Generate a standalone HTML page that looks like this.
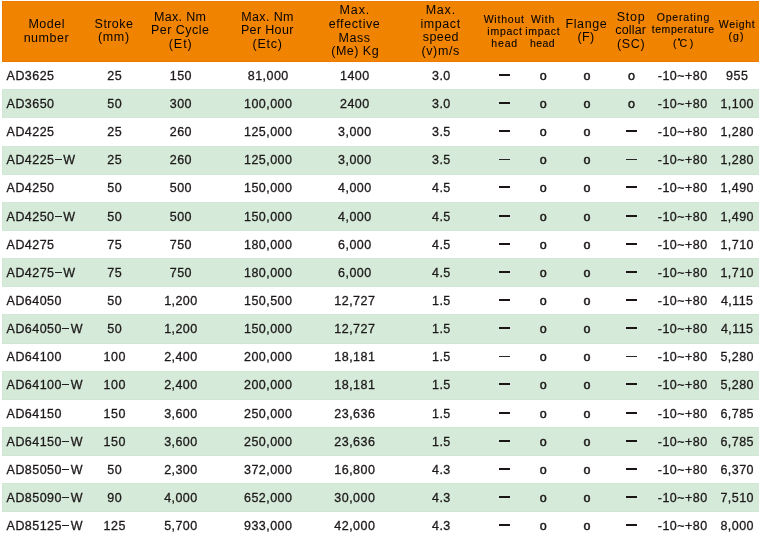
<!DOCTYPE html>
<html><head><meta charset="utf-8"><title>Specifications</title>
<style>
html,body{margin:0;padding:0;background:#fff;}
body{width:759px;height:539px;position:relative;overflow:hidden;font-family:"Liberation Sans",sans-serif;color:#1d191a;}
#tx{position:absolute;left:0;top:0;width:759px;height:539px;will-change:transform;}
.hd{position:absolute;left:2px;top:1px;width:757px;height:61px;background:#f08300;box-shadow:inset 1px 1px 0 #ee7900,inset 0 -1px 0 #ee7900;}
.g{position:absolute;left:2px;width:757px;background:#d5ead8;box-shadow:inset 1px 1px 0 #d0e7d4,inset 0 -1px 0 #d0e7d4;}
.t{position:absolute;white-space:nowrap;font-size:12.5px;line-height:14px;letter-spacing:0.45px;-webkit-text-stroke:0.3px #1d191a;}
.c{width:200px;text-align:center;}
.h{position:absolute;white-space:nowrap;color:#060404;font-size:12.5px;line-height:14px;}
.s{font-size:10.5px;line-height:12px;-webkit-text-stroke:0.12px #060404;}
.o{font-size:12.5px;-webkit-text-stroke:0.5px #1d191a;}
.dg{display:inline-block;box-sizing:border-box;width:2.4px;height:2.4px;border:0.8px solid #100c0c;border-radius:50%;vertical-align:6.4px;margin:0 -0.7px 0 1.3px;}
.db{position:absolute;width:11px;height:2px;background:#1a1415;}
.dt{position:absolute;width:11px;height:1px;background:#2a2526;}
.w{display:inline-block;width:7px;height:1px;background:#231f20;vertical-align:4px;margin:0 1.3px 0 0.6px;}
</style></head><body>
<div class="hd"></div>
<div class="g" style="top:89px;height:29px"></div>
<div class="g" style="top:146px;height:29px"></div>
<div class="g" style="top:202px;height:29px"></div>
<div class="g" style="top:258px;height:29px"></div>
<div class="g" style="top:314px;height:30px"></div>
<div class="g" style="top:371px;height:29px"></div>
<div class="g" style="top:427px;height:29px"></div>
<div class="g" style="top:483px;height:29px"></div>
<div id="tx">
<div id="h0" class="h" style="left:28.38px;top:17px;letter-spacing:0.54px">Model</div>
<div id="h1" class="h" style="left:23.64px;top:31px;letter-spacing:0.54px">number</div>
<div id="h2" class="h" style="left:94.62px;top:17px;letter-spacing:0.43px">Stroke</div>
<div id="h3" class="h" style="left:98.03px;top:30px;letter-spacing:0.64px">(mm)</div>
<div id="h4" class="h" style="left:153.94px;top:10px;letter-spacing:0.35px">Max. Nm</div>
<div id="h5" class="h" style="left:151.02px;top:23px;letter-spacing:0.48px">Per Cycle</div>
<div id="h6" class="h" style="left:168.70px;top:37px;letter-spacing:0.97px">(Et)</div>
<div id="h7" class="h" style="left:241.13px;top:10px;letter-spacing:0.40px">Max. Nm</div>
<div id="h8" class="h" style="left:240.94px;top:23px;letter-spacing:0.34px">Per Hour</div>
<div id="h9" class="h" style="left:252.62px;top:37px;letter-spacing:0.74px">(Etc)</div>
<div id="h10" class="h" style="left:339.58px;top:3px;letter-spacing:0.87px">Max.</div>
<div id="h11" class="h" style="left:328.70px;top:17px;letter-spacing:0.60px">effective</div>
<div id="h12" class="h" style="left:338.40px;top:31px;letter-spacing:0.60px">Mass</div>
<div id="h13" class="h" style="left:331.25px;top:44px;letter-spacing:0.48px">(Me) Kg</div>
<div id="h14" class="h" style="left:425.68px;top:3px;letter-spacing:0.78px">Max.</div>
<div id="h15" class="h" style="left:420.47px;top:17px;letter-spacing:0.57px">impact</div>
<div id="h16" class="h" style="left:422.86px;top:30px;letter-spacing:0.40px">speed</div>
<div id="h17" class="h" style="left:421.50px;top:44px;letter-spacing:0.60px">(v)m/s</div>
<div id="h18" class="h s" style="left:483.70px;top:13px;letter-spacing:0.77px">Without</div>
<div id="h19" class="h s" style="left:487.33px;top:25px;letter-spacing:0.75px">impact</div>
<div id="h20" class="h s" style="left:491.36px;top:37px;letter-spacing:0.82px">head</div>
<div id="h21" class="h s" style="left:530.88px;top:13px;letter-spacing:0.81px">With</div>
<div id="h22" class="h s" style="left:525.27px;top:25px;letter-spacing:0.69px">impact</div>
<div id="h23" class="h s" style="left:530.11px;top:37px;letter-spacing:0.39px">head</div>
<div id="h24" class="h" style="left:565.50px;top:17px;letter-spacing:0.60px">Flange</div>
<div id="h25" class="h" style="left:577.41px;top:30px;letter-spacing:0.39px">(F)</div>
<div id="h26" class="h" style="left:616.78px;top:10px;letter-spacing:0.70px">Stop</div>
<div id="h27" class="h" style="left:615.25px;top:23px;letter-spacing:0.18px">collar</div>
<div id="h28" class="h" style="left:616.90px;top:37px;letter-spacing:0.70px">(SC)</div>
<div id="h29" class="h s" style="left:656.67px;top:11px;letter-spacing:0.81px">Operating</div>
<div id="h30" class="h s" style="left:651.70px;top:23px;letter-spacing:0.58px">temperature</div>
<div id="h31" class="h s" style="left:673.00px;top:37px;letter-spacing:0.00px">(<span class="dg"></span>C<span style="margin-left:2.7px">)</span></div>
<div id="h32" class="h s" style="left:718.70px;top:18px;letter-spacing:0.72px">Weight</div>
<div id="h33" class="h s" style="left:728.60px;top:30px;letter-spacing:1.00px">(g)</div>
<div class="t" style="left:6.6px;top:69px">AD3625</div>
<div class="t c" style="left:14.72px;top:69px">25</div>
<div class="t c" style="left:80.92px;top:69px">150</div>
<div class="t c" style="left:168.22px;top:69px">81,000</div>
<div class="t c" style="left:254.83px;top:69px">1400</div>
<div class="t c" style="left:341.43px;top:69px">3.0</div>
<div class="db" style="left:499.1px;top:74.2px"></div>
<div class="t c o" style="left:443.43px;top:69px">o</div>
<div class="t c o" style="left:487.12px;top:69px">o</div>
<div class="t c o" style="left:531.62px;top:69px">o</div>
<div class="t c" style="left:582.73px;top:69px">-10~+80</div>
<div class="t c" style="left:637.23px;top:69px">955</div>
<div class="t" style="left:6.6px;top:97px">AD3650</div>
<div class="t c" style="left:14.72px;top:97px">50</div>
<div class="t c" style="left:80.92px;top:97px">300</div>
<div class="t c" style="left:168.22px;top:97px">100,000</div>
<div class="t c" style="left:254.83px;top:97px">2400</div>
<div class="t c" style="left:341.43px;top:97px">3.0</div>
<div class="db" style="left:499.1px;top:102.2px"></div>
<div class="t c o" style="left:443.43px;top:97px">o</div>
<div class="t c o" style="left:487.12px;top:97px">o</div>
<div class="t c o" style="left:531.62px;top:97px">o</div>
<div class="t c" style="left:582.73px;top:97px">-10~+80</div>
<div class="t c" style="left:637.23px;top:97px">1,100</div>
<div class="t" style="left:6.6px;top:125px">AD4225</div>
<div class="t c" style="left:14.72px;top:125px">25</div>
<div class="t c" style="left:80.92px;top:125px">260</div>
<div class="t c" style="left:168.22px;top:125px">125,000</div>
<div class="t c" style="left:254.83px;top:125px">3,000</div>
<div class="t c" style="left:341.43px;top:125px">3.5</div>
<div class="db" style="left:499.1px;top:130.2px"></div>
<div class="t c o" style="left:443.43px;top:125px">o</div>
<div class="t c o" style="left:487.12px;top:125px">o</div>
<div class="db" style="left:625.9px;top:130.2px"></div>
<div class="t c" style="left:582.73px;top:125px">-10~+80</div>
<div class="t c" style="left:637.23px;top:125px">1,280</div>
<div class="t" style="left:6.6px;top:153px">AD4225<span class="w"></span>W</div>
<div class="t c" style="left:14.72px;top:153px">25</div>
<div class="t c" style="left:80.92px;top:153px">260</div>
<div class="t c" style="left:168.22px;top:153px">125,000</div>
<div class="t c" style="left:254.83px;top:153px">3,000</div>
<div class="t c" style="left:341.43px;top:153px">3.5</div>
<div class="dt" style="left:499.1px;top:158.8px"></div>
<div class="t c o" style="left:443.43px;top:153px">o</div>
<div class="t c o" style="left:487.12px;top:153px">o</div>
<div class="dt" style="left:625.9px;top:158.8px"></div>
<div class="t c" style="left:582.73px;top:153px">-10~+80</div>
<div class="t c" style="left:637.23px;top:153px">1,280</div>
<div class="t" style="left:6.6px;top:181px">AD4250</div>
<div class="t c" style="left:14.72px;top:181px">50</div>
<div class="t c" style="left:80.92px;top:181px">500</div>
<div class="t c" style="left:168.22px;top:181px">150,000</div>
<div class="t c" style="left:254.83px;top:181px">4,000</div>
<div class="t c" style="left:341.43px;top:181px">4.5</div>
<div class="db" style="left:499.1px;top:186.2px"></div>
<div class="t c o" style="left:443.43px;top:181px">o</div>
<div class="t c o" style="left:487.12px;top:181px">o</div>
<div class="db" style="left:625.9px;top:186.2px"></div>
<div class="t c" style="left:582.73px;top:181px">-10~+80</div>
<div class="t c" style="left:637.23px;top:181px">1,490</div>
<div class="t" style="left:6.6px;top:210px">AD4250<span class="w"></span>W</div>
<div class="t c" style="left:14.72px;top:210px">50</div>
<div class="t c" style="left:80.92px;top:210px">500</div>
<div class="t c" style="left:168.22px;top:210px">150,000</div>
<div class="t c" style="left:254.83px;top:210px">4,000</div>
<div class="t c" style="left:341.43px;top:210px">4.5</div>
<div class="db" style="left:499.1px;top:215.2px"></div>
<div class="t c o" style="left:443.43px;top:210px">o</div>
<div class="t c o" style="left:487.12px;top:210px">o</div>
<div class="db" style="left:625.9px;top:215.2px"></div>
<div class="t c" style="left:582.73px;top:210px">-10~+80</div>
<div class="t c" style="left:637.23px;top:210px">1,490</div>
<div class="t" style="left:6.6px;top:238px">AD4275</div>
<div class="t c" style="left:14.72px;top:238px">75</div>
<div class="t c" style="left:80.92px;top:238px">750</div>
<div class="t c" style="left:168.22px;top:238px">180,000</div>
<div class="t c" style="left:254.83px;top:238px">6,000</div>
<div class="t c" style="left:341.43px;top:238px">4.5</div>
<div class="db" style="left:499.1px;top:243.2px"></div>
<div class="t c o" style="left:443.43px;top:238px">o</div>
<div class="t c o" style="left:487.12px;top:238px">o</div>
<div class="db" style="left:625.9px;top:243.2px"></div>
<div class="t c" style="left:582.73px;top:238px">-10~+80</div>
<div class="t c" style="left:637.23px;top:238px">1,710</div>
<div class="t" style="left:6.6px;top:266px">AD4275<span class="w"></span>W</div>
<div class="t c" style="left:14.72px;top:266px">75</div>
<div class="t c" style="left:80.92px;top:266px">750</div>
<div class="t c" style="left:168.22px;top:266px">180,000</div>
<div class="t c" style="left:254.83px;top:266px">6,000</div>
<div class="t c" style="left:341.43px;top:266px">4.5</div>
<div class="db" style="left:499.1px;top:271.2px"></div>
<div class="t c o" style="left:443.43px;top:266px">o</div>
<div class="t c o" style="left:487.12px;top:266px">o</div>
<div class="db" style="left:625.9px;top:271.2px"></div>
<div class="t c" style="left:582.73px;top:266px">-10~+80</div>
<div class="t c" style="left:637.23px;top:266px">1,710</div>
<div class="t" style="left:6.6px;top:294px">AD64050</div>
<div class="t c" style="left:14.72px;top:294px">50</div>
<div class="t c" style="left:80.92px;top:294px">1,200</div>
<div class="t c" style="left:168.22px;top:294px">150,500</div>
<div class="t c" style="left:254.83px;top:294px">12,727</div>
<div class="t c" style="left:341.43px;top:294px">1.5</div>
<div class="db" style="left:499.1px;top:299.2px"></div>
<div class="t c o" style="left:443.43px;top:294px">o</div>
<div class="t c o" style="left:487.12px;top:294px">o</div>
<div class="db" style="left:625.9px;top:299.2px"></div>
<div class="t c" style="left:582.73px;top:294px">-10~+80</div>
<div class="t c" style="left:637.23px;top:294px">4,115</div>
<div class="t" style="left:6.6px;top:322px">AD64050<span class="w"></span>W</div>
<div class="t c" style="left:14.72px;top:322px">50</div>
<div class="t c" style="left:80.92px;top:322px">1,200</div>
<div class="t c" style="left:168.22px;top:322px">150,000</div>
<div class="t c" style="left:254.83px;top:322px">12,727</div>
<div class="t c" style="left:341.43px;top:322px">1.5</div>
<div class="db" style="left:499.1px;top:327.2px"></div>
<div class="t c o" style="left:443.43px;top:322px">o</div>
<div class="t c o" style="left:487.12px;top:322px">o</div>
<div class="db" style="left:625.9px;top:327.2px"></div>
<div class="t c" style="left:582.73px;top:322px">-10~+80</div>
<div class="t c" style="left:637.23px;top:322px">4,115</div>
<div class="t" style="left:6.6px;top:350px">AD64100</div>
<div class="t c" style="left:14.72px;top:350px">100</div>
<div class="t c" style="left:80.92px;top:350px">2,400</div>
<div class="t c" style="left:168.22px;top:350px">200,000</div>
<div class="t c" style="left:254.83px;top:350px">18,181</div>
<div class="t c" style="left:341.43px;top:350px">1.5</div>
<div class="dt" style="left:499.1px;top:355.8px"></div>
<div class="t c o" style="left:443.43px;top:350px">o</div>
<div class="t c o" style="left:487.12px;top:350px">o</div>
<div class="dt" style="left:625.9px;top:355.8px"></div>
<div class="t c" style="left:582.73px;top:350px">-10~+80</div>
<div class="t c" style="left:637.23px;top:350px">5,280</div>
<div class="t" style="left:6.6px;top:378px">AD64100<span class="w"></span>W</div>
<div class="t c" style="left:14.72px;top:378px">100</div>
<div class="t c" style="left:80.92px;top:378px">2,400</div>
<div class="t c" style="left:168.22px;top:378px">200,000</div>
<div class="t c" style="left:254.83px;top:378px">18,181</div>
<div class="t c" style="left:341.43px;top:378px">1.5</div>
<div class="db" style="left:499.1px;top:383.2px"></div>
<div class="t c o" style="left:443.43px;top:378px">o</div>
<div class="t c o" style="left:487.12px;top:378px">o</div>
<div class="db" style="left:625.9px;top:383.2px"></div>
<div class="t c" style="left:582.73px;top:378px">-10~+80</div>
<div class="t c" style="left:637.23px;top:378px">5,280</div>
<div class="t" style="left:6.6px;top:407px">AD64150</div>
<div class="t c" style="left:14.72px;top:407px">150</div>
<div class="t c" style="left:80.92px;top:407px">3,600</div>
<div class="t c" style="left:168.22px;top:407px">250,000</div>
<div class="t c" style="left:254.83px;top:407px">23,636</div>
<div class="t c" style="left:341.43px;top:407px">1.5</div>
<div class="db" style="left:499.1px;top:412.2px"></div>
<div class="t c o" style="left:443.43px;top:407px">o</div>
<div class="t c o" style="left:487.12px;top:407px">o</div>
<div class="db" style="left:625.9px;top:412.2px"></div>
<div class="t c" style="left:582.73px;top:407px">-10~+80</div>
<div class="t c" style="left:637.23px;top:407px">6,785</div>
<div class="t" style="left:6.6px;top:435px">AD64150<span class="w"></span>W</div>
<div class="t c" style="left:14.72px;top:435px">150</div>
<div class="t c" style="left:80.92px;top:435px">3,600</div>
<div class="t c" style="left:168.22px;top:435px">250,000</div>
<div class="t c" style="left:254.83px;top:435px">23,636</div>
<div class="t c" style="left:341.43px;top:435px">1.5</div>
<div class="db" style="left:499.1px;top:440.2px"></div>
<div class="t c o" style="left:443.43px;top:435px">o</div>
<div class="t c o" style="left:487.12px;top:435px">o</div>
<div class="db" style="left:625.9px;top:440.2px"></div>
<div class="t c" style="left:582.73px;top:435px">-10~+80</div>
<div class="t c" style="left:637.23px;top:435px">6,785</div>
<div class="t" style="left:6.6px;top:463px">AD85050<span class="w"></span>W</div>
<div class="t c" style="left:14.72px;top:463px">50</div>
<div class="t c" style="left:80.92px;top:463px">2,300</div>
<div class="t c" style="left:168.22px;top:463px">372,000</div>
<div class="t c" style="left:254.83px;top:463px">16,800</div>
<div class="t c" style="left:341.43px;top:463px">4.3</div>
<div class="db" style="left:499.1px;top:468.2px"></div>
<div class="t c o" style="left:443.43px;top:463px">o</div>
<div class="t c o" style="left:487.12px;top:463px">o</div>
<div class="db" style="left:625.9px;top:468.2px"></div>
<div class="t c" style="left:582.73px;top:463px">-10~+80</div>
<div class="t c" style="left:637.23px;top:463px">6,370</div>
<div class="t" style="left:6.6px;top:491px">AD85090<span class="w"></span>W</div>
<div class="t c" style="left:14.72px;top:491px">90</div>
<div class="t c" style="left:80.92px;top:491px">4,000</div>
<div class="t c" style="left:168.22px;top:491px">652,000</div>
<div class="t c" style="left:254.83px;top:491px">30,000</div>
<div class="t c" style="left:341.43px;top:491px">4.3</div>
<div class="db" style="left:499.1px;top:496.2px"></div>
<div class="t c o" style="left:443.43px;top:491px">o</div>
<div class="t c o" style="left:487.12px;top:491px">o</div>
<div class="db" style="left:625.9px;top:496.2px"></div>
<div class="t c" style="left:582.73px;top:491px">-10~+80</div>
<div class="t c" style="left:637.23px;top:491px">7,510</div>
<div class="t" style="left:6.6px;top:519px">AD85125<span class="w"></span>W</div>
<div class="t c" style="left:14.72px;top:519px">125</div>
<div class="t c" style="left:80.92px;top:519px">5,700</div>
<div class="t c" style="left:168.22px;top:519px">933,000</div>
<div class="t c" style="left:254.83px;top:519px">42,000</div>
<div class="t c" style="left:341.43px;top:519px">4.3</div>
<div class="db" style="left:499.1px;top:524.2px"></div>
<div class="t c o" style="left:443.43px;top:519px">o</div>
<div class="t c o" style="left:487.12px;top:519px">o</div>
<div class="db" style="left:625.9px;top:524.2px"></div>
<div class="t c" style="left:582.73px;top:519px">-10~+80</div>
<div class="t c" style="left:637.23px;top:519px">8,000</div>
</div>
</body></html>
